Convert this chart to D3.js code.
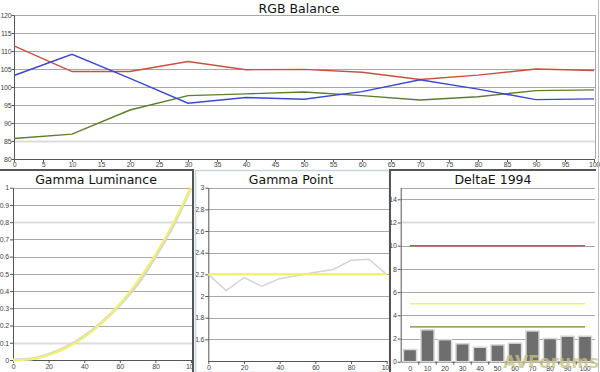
<!DOCTYPE html>
<html>
<head>
<meta charset="utf-8">
<script src="https://cdn.jsdelivr.net/npm/d3@7"></script>
<style>
  body { margin: 0; background: #fff; }
  svg { display: block; font-family: "DejaVu Sans", Verdana, sans-serif; }
  .tick text { fill: #444; }
  .tick line, .domain { stroke: #555; }
</style>
</head>
<body>
<svg id="chart" width="600" height="372"></svg>
<script>
// grey levels (IRE %)
const levels = [0, 10, 20, 30, 40, 50, 60, 70, 80, 90, 100]

// RGB balance readings
const redBal   = [111.4, 104.3, 104.3, 107.1, 104.8, 104.9, 104.1, 102.1, 103.3, 105.0, 104.6]
const greenBal = [85.7, 86.9, 93.6, 97.6, 98.1, 98.6, 97.6, 96.4, 97.3, 99.0, 99.2]
const blueBal  = [103.2, 109.1, 102.4, 95.5, 97.1, 96.6, 98.7, 102.0, 99.4, 96.5, 96.7]

// gamma luminance: measured (grey) and target (yellow)
const lumMeasured = [0, 0.006, 0.033, 0.075, 0.138, 0.22, 0.32, 0.44, 0.6, 0.78, 1]
const lumTarget   = [0, 0.005, 0.029, 0.071, 0.133, 0.218, 0.325, 0.456, 0.612, 0.793, 1]

// gamma point
const gammaPoint  = [2.2, 2.05, 2.17, 2.09, 2.16, 2.19, 2.22, 2.245, 2.33, 2.34, 2.2]
const gammaTarget = 2.2

// deltaE 1994
const deltaE = [1.05, 2.75, 1.9, 1.55, 1.25, 1.45, 1.6, 2.65, 2.0, 2.2, 2.2]
const deltaRefs = [
  { v: 10, c: '#d2553a' },
  { v: 5,  c: '#f2f266' },
  { v: 3,  c: '#6a8a2a' }
]

const svg = d3.select('#chart')
const fmt = d3.format('~g')

// draws horizontal grid lines, an optional few in the pale thick style
function grid(g, y, ticks, x0, x1, pale) {
  g.selectAll('line.grid')
    .data(ticks)
    .enter()
    .append('line')
    .attr('class', 'grid')
    .attr('x1', x0).attr('x2', x1)
    .attr('y1', d => Math.round(y(d)) + 0.5)
    .attr('y2', d => Math.round(y(d)) + 0.5)
    .attr('stroke', d => pale.includes(d) ? '#dcdcdc' : '#a9a9a9')
    .attr('stroke-width', d => pale.includes(d) ? 2 : 1)
}

function title(txt, cx, cy) {
  svg.append('text')
    .attr('x', cx).attr('y', cy)
    .attr('text-anchor', 'middle')
    .attr('font-size', 12.5)
    .attr('fill', '#111')
    .text(txt)
}

function styleAxis(g) {
  g.selectAll('.tick text').attr('font-size', 7).attr('letter-spacing', -0.2)
}

// ---------- RGB Balance ----------
{
  const x = d3.scaleLinear().domain([0, 100]).range([14, 594])
  const y = d3.scaleLinear().domain([80, 120]).range([159, 15])
  const g = svg.append('g')

  grid(g, y, d3.range(85, 121, 5), 14, 595, [85])
  g.append('line')
    .attr('x1', 595.5).attr('x2', 595.5).attr('y1', 15).attr('y2', 159)
    .attr('stroke', '#a9a9a9')

  g.append('g')
    .attr('transform', 'translate(14,0)')
    .call(d3.axisLeft(y).tickValues(d3.range(80, 121, 5)).tickSize(2.5).tickPadding(0).tickSizeOuter(0))
    .call(styleAxis)
  g.append('g')
    .attr('transform', 'translate(0,159)')
    .call(d3.axisBottom(x).tickValues(d3.range(0, 101, 5)).tickSize(3).tickPadding(0).tickSizeOuter(0))
    .call(styleAxis)

  const line = d3.line()
    .x((d, i) => x(levels[i]))
    .y(d => y(d))

  const series = [
    { vals: redBal, c: '#c8513e' },
    { vals: greenBal, c: '#5c7d2c' },
    { vals: blueBal, c: '#3848d0' }
  ]
  g.selectAll('path.bal')
    .data(series)
    .enter()
    .append('path')
    .attr('class', 'bal')
    .attr('d', d => line(d.vals))
    .attr('fill', 'none')
    .attr('stroke', d => d.c)
    .attr('stroke-width', 1.4)

  title('RGB Balance', 299, 13)
}

// ---------- panel frames ----------
svg.append('rect')
  .attr('x', 195.5).attr('y', 170.5).attr('width', 194).attr('height', 202)
  .attr('fill', 'none').attr('stroke', '#c4d6e2').attr('stroke-width', 1.5)
svg.append('path')
  .attr('d', 'M0,170 H193 V372')
  .attr('fill', 'none').attr('stroke', '#555').attr('stroke-width', 2)
svg.append('path')
  .attr('d', 'M390,372 V170 H596')
  .attr('fill', 'none').attr('stroke', '#555').attr('stroke-width', 2)
svg.append('line')
  .attr('x1', 598.5).attr('x2', 598.5).attr('y1', 0).attr('y2', 372)
  .attr('stroke', '#bbb')

const defs = svg.append('defs')
function clip(id, x0, x1) {
  defs.append('clipPath').attr('id', id)
    .append('rect').attr('x', x0).attr('y', 171).attr('width', x1 - x0).attr('height', 201)
}
clip('c1', -10, 192)
clip('c2', 196, 389)
clip('c3', 391, 595)

// ---------- Gamma Luminance ----------
{
  const x = d3.scaleLinear().domain([0, 100]).range([13, 191])
  const y = d3.scaleLinear().domain([0, 1]).range([360, 187.7])
  const g = svg.append('g').attr('clip-path', 'url(#c1)')

  grid(g, y, d3.range(1, 11).map(d => d / 10), 13, 192, [0.1, 0.8])

  g.append('g')
    .attr('transform', 'translate(13,0)')
    .call(d3.axisLeft(y).tickValues(d3.range(0, 11).map(d => d / 10)).tickFormat(fmt).tickSize(3).tickPadding(1).tickSizeOuter(0))
    .call(styleAxis)
  g.append('g')
    .attr('transform', 'translate(0,360)')
    .call(d3.axisBottom(x).tickValues(d3.range(0, 101, 20)).tickSize(3).tickPadding(1).tickSizeOuter(0))
    .call(styleAxis)

  const line = d3.line()
    .x((d, i) => x(levels[i]))
    .y(d => y(d))
    .curve(d3.curveMonotoneX)
  g.append('path').attr('d', line(lumMeasured))
    .attr('fill', 'none').attr('stroke', '#d6d6d6').attr('stroke-width', 3)
  g.append('path').attr('d', line(lumTarget))
    .attr('fill', 'none').attr('stroke', '#f1f16a').attr('stroke-width', 2)

  title('Gamma Luminance', 96, 184)
}

// ---------- Gamma Point ----------
{
  const x = d3.scaleLinear().domain([0, 100]).range([208.3, 386.7])
  const y = d3.scaleLinear().domain([1.4, 3]).range([361, 187.7])
  const g = svg.append('g').attr('clip-path', 'url(#c2)')

  grid(g, y, d3.range(8, 16).map(d => d / 5), 208, 389, [])

  g.append('g')
    .attr('transform', 'translate(208.3,0)')
    .call(d3.axisLeft(y).tickValues(d3.range(8, 16).map(d => d / 5)).tickFormat(fmt).tickSize(3).tickPadding(1).tickSizeOuter(0))
    .call(styleAxis)
  g.append('g')
    .attr('transform', 'translate(0,361)')
    .call(d3.axisBottom(x).tickValues(d3.range(0, 101, 20)).tickSize(3).tickPadding(1).tickSizeOuter(0))
    .call(styleAxis)

  g.append('path')
    .attr('d', d3.line().x((d, i) => x(levels[i])).y(d => y(d))(gammaPoint))
    .attr('fill', 'none').attr('stroke', '#d4d4d4').attr('stroke-width', 1.5)
  g.append('line')
    .attr('x1', x(0)).attr('x2', x(100))
    .attr('y1', y(gammaTarget)).attr('y2', y(gammaTarget))
    .attr('stroke', '#f1f150').attr('stroke-width', 2)

  title('Gamma Point', 291, 184)
}

// ---------- DeltaE 1994 ----------
{
  const cats = levels.map(String)
  const x = d3.scaleBand().domain(cats).range([401.25, 593.75]).paddingInner(0.25).paddingOuter(0.125)
  const y = d3.scaleLinear().domain([0, 15]).range([361.7, 187.7])
  const g = svg.append('g').attr('clip-path', 'url(#c3)')

  grid(g, y, d3.range(2, 16, 2).concat([15]), 401, 595, [12])

  g.append('g')
    .attr('transform', 'translate(400.7,0)')
    .call(d3.axisLeft(y).tickValues(d3.range(0, 15, 2)).tickSize(3).tickPadding(1).tickSizeOuter(0))
    .call(styleAxis)
  const xa = g.append('g')
    .attr('transform', 'translate(0,361.7)')
    .call(d3.axisBottom(x).tickSize(0).tickPadding(4).tickSizeOuter(0))
    .call(styleAxis)
  // small tick marks sit between the bars
  xa.selectAll('line.sep')
    .data(cats.slice(1))
    .enter()
    .append('line')
    .attr('class', 'sep')
    .attr('x1', d => x(d) - x.step() * x.paddingInner() / 2)
    .attr('x2', d => x(d) - x.step() * x.paddingInner() / 2)
    .attr('y1', 0).attr('y2', 3)
    .attr('stroke', '#555')

  g.selectAll('line.ref')
    .data(deltaRefs)
    .enter()
    .append('line')
    .attr('class', 'ref')
    .attr('x1', x('0') + x.bandwidth() / 2)
    .attr('x2', x('100') + x.bandwidth() / 2)
    .attr('y1', d => y(d.v)).attr('y2', d => y(d.v))
    .attr('stroke', d => d.c).attr('stroke-width', d => d.v === 3 ? 1.1 : 1.6)

  g.selectAll('rect.bar')
    .data(deltaE)
    .enter()
    .append('rect')
    .attr('class', 'bar')
    .attr('x', (d, i) => x(cats[i]))
    .attr('width', x.bandwidth())
    .attr('y', d => y(d))
    .attr('height', d => y(0) - y(d))
    .attr('fill', '#6e6e6e')
    .attr('stroke', '#d8d8d8')
    .attr('stroke-width', 1.5)

  title('DeltaE 1994', 493, 184)
}

// watermark
svg.append('text')
  .attr('x', 551).attr('y', 368)
  .attr('text-anchor', 'middle')
  .attr('font-size', 17)
  .attr('font-weight', 'bold')
  .attr('fill', '#c9c285')
  .attr('fill-opacity', 0.75)
  .text('AVForums')
</script>
</body>
</html>
